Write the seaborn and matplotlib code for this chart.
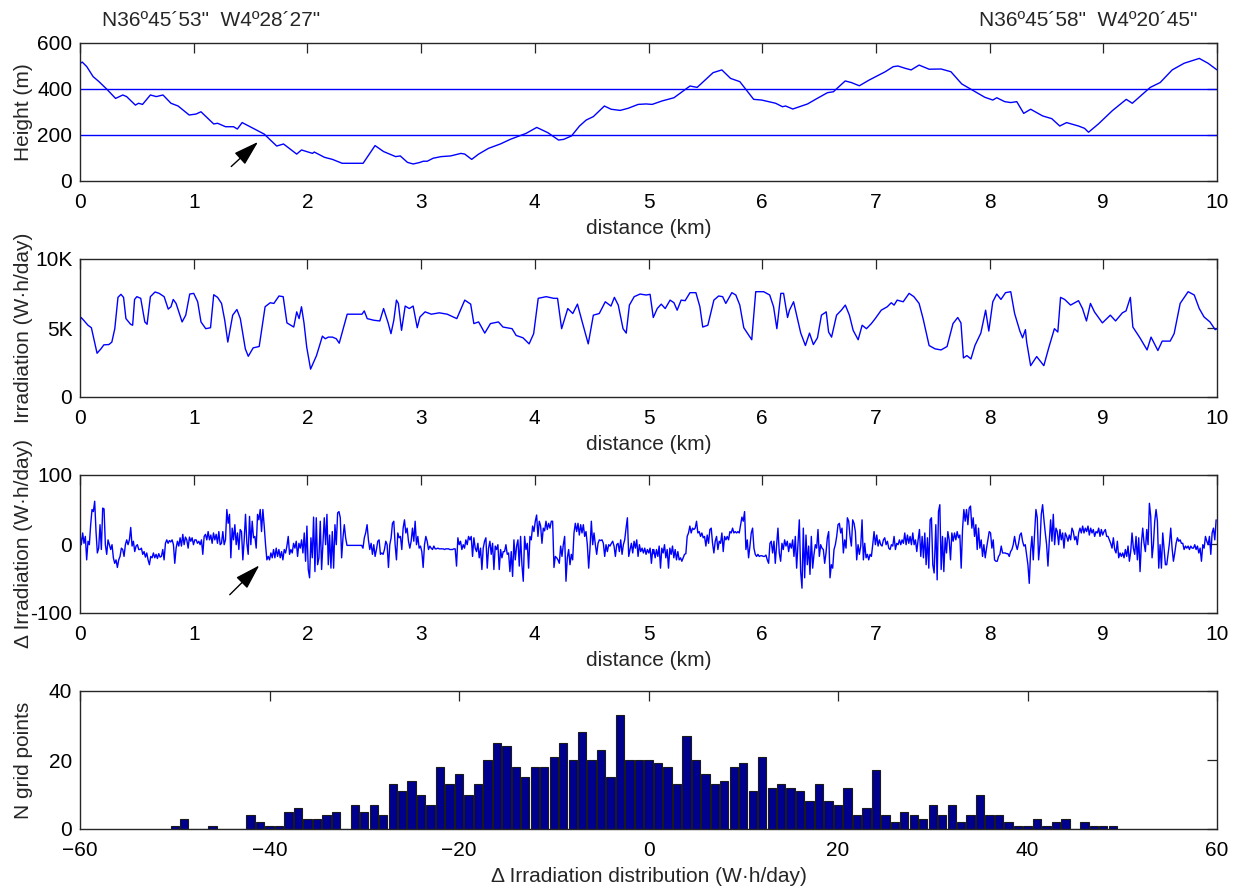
import numpy as np
import pandas as pd
import matplotlib
matplotlib.use("Agg")
import matplotlib.pyplot as plt
import seaborn as sns

# ---------------- data ----------------
coord_start = 'N36º45´53"  W4º28´27"'
coord_end = 'N36º45´58"  W4º20´45"'

height_km = [0, 0.02, 0.06, 0.115, 0.167, 0.236, 0.313, 0.376, 0.41, 0.487, 0.515, 0.55, 0.619, 0.671,
             0.73, 0.8, 0.863, 0.96, 1.02, 1.064, 1.176, 1.21, 1.28, 1.35, 1.384, 1.426, 1.523, 1.62,
             1.73, 1.79, 1.906, 1.948, 1.993, 2.045, 2.06, 2.15, 2.22, 2.306, 2.39, 2.49, 2.595, 2.67,
             2.776, 2.817, 2.88, 2.93, 2.984, 3.02, 3.054, 3.106, 3.176, 3.26, 3.35, 3.384, 3.445,
             3.506, 3.593, 3.697, 3.784, 3.923, 4.017, 4.115, 4.209, 4.254, 4.323, 4.393, 4.452,
             4.515, 4.612, 4.671, 4.751, 4.82, 4.909, 4.979, 5.032, 5.119, 5.224, 5.365, 5.428,
             5.505, 5.568, 5.645, 5.722, 5.803, 5.925, 5.995, 6.118, 6.178, 6.206, 6.269, 6.328,
             6.399, 6.469, 6.574, 6.626, 6.73, 6.784, 6.854, 6.941, 7.082, 7.152, 7.194, 7.257,
             7.31, 7.38, 7.468, 7.573, 7.66, 7.755, 7.836, 7.958, 8.028, 8.063, 8.133, 8.186,
             8.239, 8.3, 8.361, 8.466, 8.547, 8.617, 8.677, 8.782, 8.835, 8.87, 8.957, 9.08,
             9.202, 9.255, 9.413, 9.5, 9.606, 9.711, 9.844, 9.921, 10.0]
height_m = [511, 517, 497, 454, 432, 399, 359, 374, 367, 330, 338, 333, 374, 367,
            374, 338, 326, 287, 291, 301, 248, 251, 236, 236, 226, 254, 229, 204,
            152, 161, 117, 135, 128, 120, 126, 103, 94, 77, 77, 77, 154, 128,
            106, 109, 81, 74, 80, 86, 86, 99, 106, 109, 120, 117, 94,
            117, 142, 161, 181, 207, 233, 210, 178, 181, 196, 239, 265,
            280, 326, 312, 307, 316, 333, 335, 333, 348, 362, 413, 407,
            442, 471, 483, 446, 432, 355, 352, 338, 323, 326, 313, 323,
            335, 355, 384, 388, 435, 428, 414, 439, 475, 497, 500, 490,
            483, 504, 486, 487, 475, 422, 399, 364, 352, 362, 345, 341,
            345, 294, 312, 283, 271, 239, 254, 239, 229, 212, 248, 306,
            355, 338, 407, 428, 483, 512, 533, 512, 483]
height_levels = [200, 400]

irr_km = [0, 0.004, 0.01, 0.028, 0.07, 0.1, 0.132, 0.15, 0.184, 0.21, 0.254, 0.28, 0.306, 0.334,
          0.36, 0.383, 0.404, 0.445, 0.463, 0.48, 0.5, 0.534, 0.57, 0.59, 0.619, 0.66, 0.696,
          0.74, 0.776, 0.8, 0.82, 0.845, 0.898, 0.93, 0.965, 1.0, 1.035, 1.064, 1.106, 1.148,
          1.176, 1.21, 1.245, 1.273, 1.3, 1.343, 1.38, 1.41, 1.454, 1.48, 1.523, 1.576, 1.628,
          1.673, 1.705, 1.75, 1.787, 1.82, 1.88, 1.906, 1.927, 1.948, 1.97, 1.994, 2.028, 2.08,
          2.132, 2.157, 2.184, 2.22, 2.254, 2.28, 2.35, 2.48, 2.5, 2.526, 2.585, 2.637, 2.67,
          2.71, 2.735, 2.76, 2.783, 2.8, 2.828, 2.86, 2.896, 2.93, 2.966, 2.99, 3.035, 3.09,
          3.16, 3.23, 3.314, 3.384, 3.436, 3.464, 3.506, 3.56, 3.61, 3.68, 3.72, 3.8, 3.836,
          3.896, 3.95, 3.99, 4.03, 4.1, 4.167, 4.2, 4.236, 4.29, 4.334, 4.375, 4.417, 4.47,
          4.515, 4.567, 4.62, 4.67, 4.7, 4.734, 4.776, 4.804, 4.832, 4.874, 4.926, 4.979,
          5.014, 5.042, 5.077, 5.112, 5.147, 5.19, 5.224, 5.252, 5.287, 5.322, 5.365, 5.417,
          5.452, 5.477, 5.522, 5.575, 5.617, 5.652, 5.68, 5.733, 5.768, 5.803, 5.838, 5.873,
          5.908, 5.943, 6.013, 6.066, 6.1, 6.129, 6.164, 6.188, 6.223, 6.24, 6.276, 6.31,
          6.339, 6.38, 6.416, 6.45, 6.486, 6.521, 6.563, 6.584, 6.61, 6.654, 6.696, 6.731,
          6.767, 6.8, 6.844, 6.879, 6.917, 6.96, 6.994, 7.047, 7.1, 7.135, 7.16, 7.187, 7.24,
          7.292, 7.334, 7.38, 7.415, 7.468, 7.52, 7.573, 7.626, 7.678, 7.72, 7.748, 7.77, 7.8,
          7.836, 7.871, 7.923, 7.965, 7.993, 8.028, 8.063, 8.1, 8.14, 8.186, 8.22, 8.266, 8.29,
          8.315, 8.326, 8.361, 8.414, 8.477, 8.52, 8.57, 8.6, 8.624, 8.66, 8.712, 8.782, 8.817,
          8.852, 8.887, 8.922, 8.992, 9.062, 9.108, 9.168, 9.2, 9.238, 9.26, 9.322, 9.385,
          9.42, 9.48, 9.518, 9.588, 9.623, 9.676, 9.746, 9.8, 9.844, 9.886, 9.938, 9.984, 10.0]
# irradiation in thousands of W·h/day
irr_k = [0, 5.7, 5.76, 5.6, 5.2, 5.02, 3.85, 3.17, 3.49, 3.78, 3.8, 3.98, 4.95, 7.22,
         7.44, 7.22, 5.68, 5.27, 5.2, 7.07, 7.27, 7.15, 5.44, 5.27, 7.27, 7.61, 7.51,
         7.27, 6.37, 6.54, 7.07, 6.78, 5.44, 5.93, 7.46, 7.51, 6.9, 5.44, 4.95, 5.02,
         7.41, 7.22, 6.78, 5.56, 3.98, 5.93, 6.34, 5.68, 3.49, 2.95, 3.56, 3.66, 6.54,
         6.83, 6.78, 7.32, 7.27, 5.37, 5.07, 6.17, 5.68, 6.54, 5.37, 3.61, 2.02, 3.0,
         4.41, 4.22, 4.34, 4.34, 4.22, 3.9, 6.0, 6.0, 6.24, 5.68, 5.56, 5.51, 6.41,
         5.37, 4.59, 5.56, 7.02, 6.78, 4.83, 6.59, 6.41, 6.59, 5.02, 5.8, 6.17, 6.0,
         6.1, 6.0, 5.68, 7.02, 6.73, 5.32, 5.44, 4.63, 5.32, 5.44, 5.07, 4.95, 4.46,
         4.29, 3.85, 4.59, 7.15, 7.27, 7.15, 7.15, 4.95, 6.41, 6.05, 6.73, 5.44, 3.85,
         5.93, 6.05, 6.9, 6.59, 7.22, 6.66, 4.95, 4.63, 6.66, 7.27, 7.46, 7.39,
         7.44, 5.76, 6.41, 6.73, 6.41, 7.02, 6.83, 6.29, 7.02, 6.98, 7.56, 7.56,
         6.54, 5.07, 5.2, 7.02, 7.32, 7.27, 6.78, 7.56, 7.39, 6.66, 5.02, 4.59,
         4.15, 7.63, 7.63, 7.39, 6.54, 4.95, 7.51, 7.51, 5.76, 6.29, 6.9, 5.68,
         4.63, 3.73, 4.63, 3.8, 4.29, 5.93, 6.17, 4.71, 4.34, 5.93, 6.29, 6.66,
         5.93, 4.83, 4.15, 5.2, 4.95, 5.32, 5.68, 6.29, 6.54, 6.83, 6.66, 7.02, 6.9,
         7.51, 7.27, 6.78, 5.68, 3.73, 3.49, 3.41, 3.66, 5.32, 5.76, 5.37, 2.83, 3.0,
         2.76, 3.73, 4.63, 6.29, 4.78, 6.9, 7.46, 7.07, 7.56, 7.63, 6.05, 4.78, 4.29,
         4.88, 3.98, 2.27, 2.93, 2.27, 3.56, 4.95, 4.71, 7.22, 7.07, 6.66, 6.98, 6.41,
         5.51, 6.78, 6.17, 5.37, 5.93, 5.51, 6.1, 6.24, 7.22, 5.07, 4.29, 3.41,
         4.34, 3.37, 4.05, 4.05, 4.59, 6.78, 7.63, 7.39, 6.41, 5.8, 5.44, 4.88, 4.95]

# delta irradiation (W·h/day), sampled every delta_step_km, in four read-off stretches
delta_step_km = 0.01174
delta_seg_start_km = [0.0, 2.525, 5.035, 7.527]
delta_seg1 = [14, -1, 16, 1, 11, -23, 4, -1, 28, 50, 47, 62, 18, -13, -6, 28, -8, 52, 51, -1,
              -15, 6, -1, -8, -1, -20, -28, -23, -34, -23, -18, -6, -8, -18, -1, 6, -1, 6, 24, -3,
              4, -11, -3, -1, -8, -8, -6, -15, -11, -19, -13, -23, -30, -18, -20, -13, -20, -15, -21, -14,
              -19, -18, -8, -23, 1, 6, 1, 5, 3, 6, -1, -28, -6, 4, -3, 9, -3, 14, -1, 10,
              6, -6, 10, 4, 9, -1, 6, 6, 1, 4, -1, 6, -15, 11, 14, 6, 18, 6, 13, 1,
              16, 6, 14, 1, 18, -1, 1, 18, -1, 6, 50, 30, 43, -20, 23, 6, 28, -1, 16, -8,
              21, 18, -23, 6, 43, 1, -15, 40, -1, 33, 9, 11, -6, 43, 35, 50, 18, 50, 26, -1,
              -23, -18, -23, -13, -20, -8, -20, -6, -18, -8, -20, -11, -23, -8, -13, -3, 11, -15, -8, -13,
              1, -6, 4, -18, 1, -6, 6, -13, 16, -25, 26, -37, -49, 9, -20, 39, -40, 38, -30, -20,
              33, -37, -1, 38, -1, 43, -30, 13, -35, 18, -35, 28, -1, 45, 47, 38, -20, 9, 28, 9,
              -2, -2, -2, -2, -2, -2, -2, -2, -2, -2, -2, -2, -6, 9, 16]
delta_seg2 = [28, 6, -8, 1, -15, -1, -18, -8, 4, 6, -15, -13, -15, -8, 4, -1, -34, -1, 9, 30,
              33, -1, -23, 16, 9, 11, -8, 23, 35, 16, 23, 4, -6, 4, 23, 4, 33, -1, 11, -6,
              -3, -11, -34, -1, 11, 4, -8, -3, -6, -8, -3,
              -7, -7, -6, -7, -7, -7, -7, -8, -7, -7, -7, -8, -8, -8, -7, -7,
              -32, 9, -1, 4, -8, -1, -6, 6, -1, 11, 6, 11, -18, 9, -6, -11, 1, -20, -6, -37,
              -6, 4, 9, -35, -6, 4, -15, 1, -37, -3, -8, -1, -37, -8, -20, -11, -11, -1, -15, -13,
              -40, -11, -47, 6, -23, -3, 6, -32, 11, -30, -54, 11, -8, 1, -35, 11, 6, 26, 18, 33,
              42, 11, 33, 26, 1, 23, 19, 33, 21, 30, 23, 33, 33, -34, -18, -20, -23, -28, -3, -18,
              -1, 11, -54, -20, -8, -30, -15, -23, 16, 30, 18, 30, 13, 28, 16, 28, 11, 18, -1, -35,
              -6, 33, -1, 16, -1, -15, 1, 6, 5, 6, 1, -18, -1, -11, -1, -3, 1, 4, -3, -18,
              -1, 1, -11, 6, -15, -1, 6, 23, 38, -18, -8, 1, -13, 4, -6, 6, -18, -1, -11, -6,
              -13, -6, -15, -8, -13, -6, -28, -8]
delta_seg3 = [-15, -8, -20, -8, -18, -3, -35, -6, -13, -1, -20, -8, -35, -6, -15, -3, -20, -8, -23, -11,
              -23, -20, -25, -20, -15, -14, 11, 16, 26, 16, 23, 21, 23, 33, 16, 18, 11, 16, 9, 11,
              -3, 13, 1, 21, 23, 1, -13, 4, 11, -8, 4, 1, 16, -11, 11, 6, 11, 6, 18, 16,
              23, 16, 18, 16, 18, 16, 28, 39, 33, 47, -8, 6, -20, -3, 16, 23, -6, -15, -18, -15,
              -18, -17, -17, -18, -18, -16, -23,
              -28, 1, 4, -13, 4, -28, -1, 23, -13, -25, 1, -8, 6, -3, 4, -11, 1, -6, 6, -18,
              11, -35, -1, 35, -40, -64, 23, -49, 13, -30, -3, -44, 11, -35, -15, -1, -6, 21, -18, -1,
              -6, -8, -28, -13, 9, 18, -49, -30, -35, -8, -1, 11, 28, 30, 16, 23, -13, 6, -6, 38,
              33, 11, -3, 35, 30, 18, -23, -1, -15, -3, 35, -23, 1, -20, -15, -23, -15, -18, -1, 18,
              -1, 13, -3, 6, -1, -3, 6, 9, -1, 4, -6, -8, -1, -3, 11, -8, 1, -1, 6, -1,
              6, 1, 16, -1, 13, 1, 11, -1, 16, -1, 6, -11, 6, 21, -18, 11, -20, 16, -30, 9,
              -35, 35, 38, -30, -42]
delta_seg4 = [28, -52, 47, 57, -37, 11, -40, 9, -13, 18, 6, -23, 16, 4, 16, 6, 18, 9, 13, -35,
              21, 50, 33, 50, 28, 52, 55, 23, 38, 11, 28, -8, 23, -6, 6, -18, -1, -20, -6, 6,
              18, 16, -6, 6, -23, -25, -25, -18, -15, -3, -13, -13, -13, -14, -14, -18, -11, -8, -1, 11,
              -1, -8, 1, 13, 16, 4, -3, -1, -15, -30, -57, -11, 11, -23, 16, 50, 38, -23, -1, 43,
              57, 35, 16, -1, -32, 4, 35, 4, 43, -1, 23, 18, -1, 21, 6, 16, -6, 16, 11, 4,
              13, 6, 23, 18, 6, 11, -1, 16, 23, 16, 26, 16, 23, 18, 26, 13, 23, 16, 21, 11,
              18, 16, 23, 11, 21, 13, 18, 21, 11, 11, 6, 1, -6, 9, -8, -13, 4, -20, -13, -18,
              -13, -20, -8, -18, -3, -25, -11, 16, -6, -15, 11, -23, 9, -40, 1, 23, 1, -11, 21, -1,
              59, 40, -20, -1, 33, 50, 33, -35, -1, -35, 16, -8, -30, -30, -15, 1, 23, -6, -25, -13,
              1, 9, 4, 6, 1, 1, -8, -3, -6, -3, -8, -3, -6, -6, -1, -8, -3, -13, -6, -25,
              -1, -6, 11, 4, -1, 11, -15, 16, 23, 6, 35]

# histogram of delta irradiation (1 W·h/day bins)
hist_bin_centers = list(range(-50, 50))
hist_counts = [1, 3, 0, 0, 1, 0, 0, 0, 4, 2, 1, 1, 5, 6, 3, 3, 4, 5, 0, 7,
               5, 7, 4, 13, 11, 14, 10, 7, 18, 13, 16, 10, 13, 20, 25, 24, 18, 15, 18, 18,
               21, 25, 20, 28, 20, 23, 15, 33, 20, 20, 20, 19, 18, 13, 27, 20, 16, 13, 14, 18,
               19, 11, 21, 12, 13, 12, 11, 8, 13, 8, 7, 12, 4, 6, 17, 4, 2, 5, 4, 3,
               7, 4, 7, 2, 4, 10, 4, 4, 2, 1, 1, 3, 1, 2, 3, 0, 2, 1, 1, 1]

# ---------------- style ----------------
sns.set_theme(style="white")
plt.rcParams["font.family"] = ["Liberation Sans", "DejaVu Sans"]
plt.rcParams["axes.unicode_minus"] = True
FS = 15
LINE_C = "#0000ff"
EDGE_C = "#262626"

fig = plt.figure(figsize=(12.36, 8.86), dpi=100)
L = 80 / 1236
W = 1137 / 1236
H = 138 / 886
bottoms = [(886 - 181) / 886, (886 - 397) / 886, (886 - 613) / 886, (886 - 829) / 886]
ax1, ax2, ax3, ax4 = [fig.add_axes([L, b, W, H]) for b in bottoms]


def style_axes(ax):
    for s in ax.spines.values():
        s.set_visible(True)
        s.set_color(EDGE_C)
        s.set_linewidth(1.0)
    ax.tick_params(direction="in", length=7, width=0.9, top=True, right=True,
                   colors=EDGE_C, labelcolor="black", labelsize=FS)
    ax.tick_params(axis="x", pad=8.5)
    ax.tick_params(axis="y", pad=5.5)
    ax.grid(False)
    ax.set_facecolor("white")


# ---- panel 1: height ----
for lvl in height_levels:
    ax1.axhline(lvl, color=LINE_C, lw=1.0, zorder=1)
sns.lineplot(x=height_km, y=height_m, ax=ax1, color=LINE_C, linewidth=1.0,
             estimator=None, sort=False)
ax1.set_xlim(0, 10)
ax1.set_ylim(0, 600)
ax1.set_yticks([0, 200, 400, 600])
ax1.set_ylabel("Height (m)", fontsize=FS)
ax1.annotate("", xy=(1.566, 170), xytext=(1.33, 63),
             arrowprops=dict(arrowstyle="-|>,head_length=1.3,head_width=0.4",
                             color="black", lw=1.0, shrinkA=0, shrinkB=0))

# ---- panel 2: irradiation ----
sns.lineplot(x=irr_km, y=irr_k, ax=ax2, color=LINE_C, linewidth=1.0,
             estimator=None, sort=False)
ax2.set_xlim(0, 10)
ax2.set_ylim(0, 10)
ax2.set_yticks([0, 5, 10])
ax2.set_yticklabels(["0", "5K", "10K"])
ax2.set_ylabel("Irradiation (W·h/day)", fontsize=FS)

# ---- panel 3: delta irradiation ----
dist_all, delta_all = [], []
for start, seg in zip(delta_seg_start_km, [delta_seg1, delta_seg2, delta_seg3, delta_seg4]):
    dist_all.extend(start + delta_step_km * np.arange(len(seg)))
    delta_all.extend(seg)
dist_all = np.minimum(np.array(dist_all), 10.0)
sns.lineplot(x=dist_all, y=np.array(delta_all, dtype=float), ax=ax3, color=LINE_C,
             linewidth=1.0, estimator=None, sort=False)
ax3.set_xlim(0, 10)
ax3.set_ylim(-100, 100)
ax3.set_yticks([-100, 0, 100])
ax3.set_yticklabels(["-100", "0", "100"])
ax3.set_ylabel("Δ Irradiation (W·h/day)", fontsize=FS)
ax3.annotate("", xy=(1.577, -31), xytext=(1.317, -73.5),
             arrowprops=dict(arrowstyle="-|>,head_length=1.3,head_width=0.4",
                             color="black", lw=1.0, shrinkA=0, shrinkB=0))

for ax in (ax1, ax2, ax3):
    ax.set_xticks(range(0, 11))
    ax.set_xlabel("distance (km)", fontsize=FS, labelpad=5)

# ---- panel 4: histogram ----
hist_df = pd.DataFrame({"delta": np.array(hist_bin_centers, dtype=float),
                        "count": np.array(hist_counts, dtype=float)})
sns.histplot(data=hist_df, x="delta", weights="count", binwidth=1.0,
             binrange=(-50.5, 49.5), ax=ax4,
             color="#00008f", edgecolor="#1a1a1a", linewidth=0.8, alpha=1.0, shrink=0.88)
ax4.set_xlim(-60, 60)
ax4.set_ylim(0, 40)
ax4.set_xticks(range(-60, 61, 20))
ax4.set_yticks([0, 20, 40])
ax4.set_xlabel("Δ Irradiation distribution (W·h/day)", fontsize=FS, labelpad=5)
ax4.set_ylabel("N grid points", fontsize=FS)

for ax in (ax1, ax2, ax3, ax4):
    style_axes(ax)
    ax.yaxis.set_label_coords(-0.041, 0.5)

fig.text(102 / 1236, 1 - 26 / 886, coord_start, fontsize=FS, ha="left", va="baseline")
fig.text(1197 / 1236, 1 - 26 / 886, coord_end, fontsize=FS, ha="right", va="baseline")

fig.savefig("out.png", dpi=100, facecolor="white")
